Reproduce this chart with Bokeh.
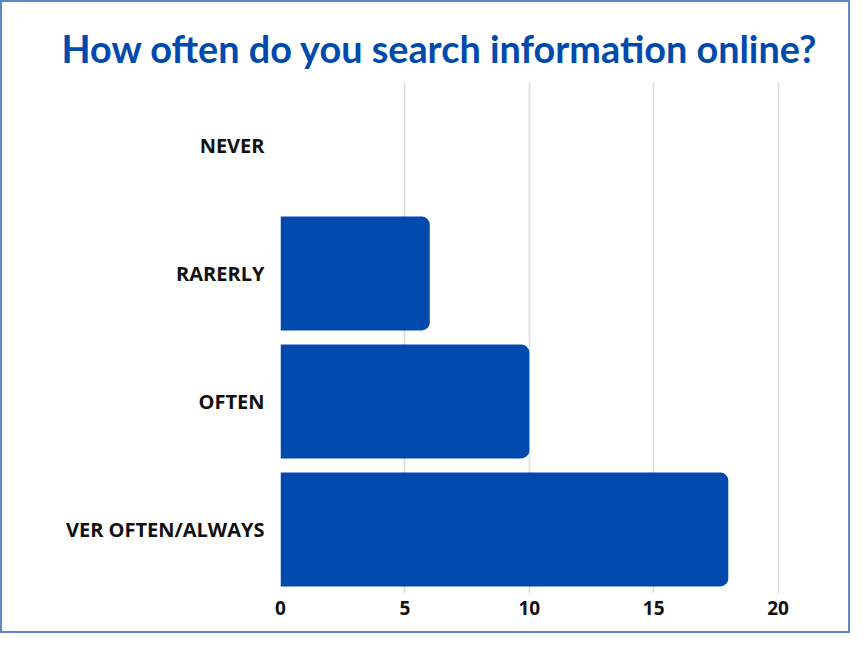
from bokeh.plotting import figure
from bokeh.embed import file_html
from bokeh.resources import INLINE
from bokeh.models import FixedTicker, ColumnDataSource

categories = ["VER OFTEN/ALWAYS", "OFTEN", "RARERLY", "NEVER"]
values = [18, 10, 6, 0]
x_ticks = [0, 5, 10, 15, 20]

BLUE = "#004AAD"

src = ColumnDataSource(dict(cat=categories, val=values))

p = figure(
    width=850, height=633,
    y_range=categories, x_range=(0, 20.5),
    output_backend="svg", toolbar_location=None,
    title="How often do you search information online?",
    min_border_left=278, min_border_right=62,
    min_border_top=79, min_border_bottom=42,
)
p.styles = {"border": "2px solid #5b87c5", "box-sizing": "border-box"}

p.hbar(y="cat", right="val", left=0, height=0.89, source=src,
       fill_color=BLUE, line_color=None, border_radius=(0, 8, 8, 0))

p.title.text_font = "Lato"
p.title.text_font_size = "37.8px"
p.title.text_font_style = "bold"
p.title.text_color = BLUE
p.title.align = "left"
p.title.offset = -219
p.title.standoff = 21

p.xaxis.ticker = FixedTicker(ticks=x_ticks)
p.xaxis.axis_line_color = None
p.xaxis.major_tick_line_color = None
p.xaxis.minor_tick_line_color = None
p.xaxis.major_label_text_font = "Open Sans"
p.xaxis.major_label_text_font_style = "bold"
p.xaxis.major_label_text_font_size = "19px"
p.xaxis.major_label_text_color = "#111111"
p.xaxis.major_label_standoff = 1

p.yaxis.axis_line_color = None
p.yaxis.major_tick_line_color = None
p.yaxis.minor_tick_line_color = None
p.yaxis.major_label_text_font = "Open Sans"
p.yaxis.major_label_text_font_style = "bold"
p.yaxis.major_label_text_font_size = "20px"
p.yaxis.major_label_text_color = "#111111"
p.yaxis.major_label_standoff = 10

p.ygrid.grid_line_color = None
p.xgrid.grid_line_color = "#d9d9d9"
p.xgrid.grid_line_width = 1.5
p.outline_line_color = None

open("out.html", "w").write(file_html(p, INLINE))
